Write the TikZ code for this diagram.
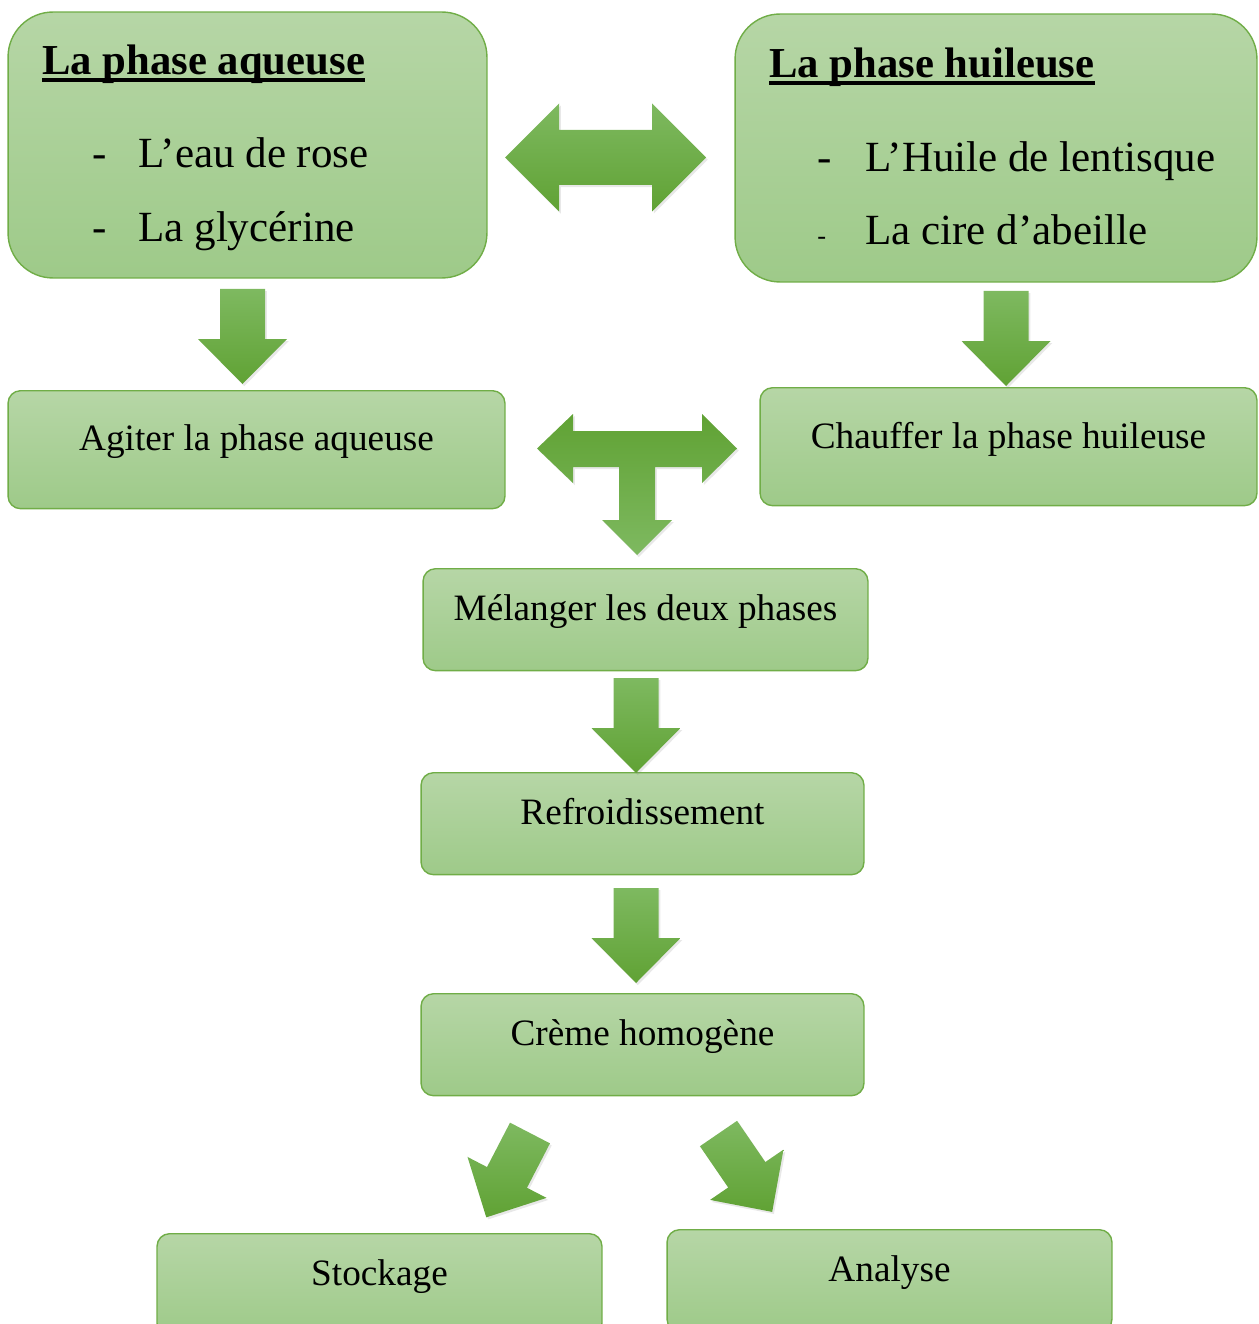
\documentclass[tikz,border=0pt]{standalone}
\usepackage{fontspec}
\setmainfont{Liberation Serif}
\usetikzlibrary{shadows}

\definecolor{boxtop}{RGB}{182,214,166}
\definecolor{boxbot}{RGB}{158,202,137}
\definecolor{boxline}{RGB}{112,173,71}
\definecolor{arrtop}{RGB}{126,185,96}
\definecolor{arrbot}{RGB}{96,162,52}

\begin{document}
\begin{tikzpicture}[
			x=0.02cm, y=-0.02cm,
			phasebox/.style={
				rectangle,
				draw=boxline,
				line width=0.8pt,
				rounded corners=0.9cm,
				top color=boxtop,
				bottom color=boxbot
			},
			box/.style={
				rectangle,
				draw=boxline,
				line width=0.8pt,
				rounded corners=0.25cm,
				top color=boxtop,
				bottom color=boxbot,
				minimum width=8.9cm,
				inner sep=0pt,
				text height=1.04cm,
				text depth=1.0cm,
				anchor=north,
				font=\fontsize{21.2}{25}\selectfont
			},
			item/.style={
				anchor=base west,
				inner sep=0pt,
				font=\fontsize{24.5}{28}\selectfont
			},
			title/.style={
				item,
				font=\fontsize{24.3}{28}\selectfont\bfseries
			},
			underline/.style={
				line width=2pt
			},
			blockarrow/.style={
				top color=arrtop,
				bottom color=arrbot,
				drop shadow={opacity=0.18, shadow xshift=1pt, shadow yshift=-1.2pt}
			}
			]
			
			\clip (0,0) rectangle (1258,1324);
			
			% the two phases
			\node (aq) [phasebox, minimum width=9.58cm, minimum height=5.32cm] at (247.5,145) {};
			\node (hu) [phasebox, minimum width=10.44cm, minimum height=5.36cm] at (996,148) {};
			
			\node (aqtitle) [title] at (42,75) {La phase aqueuse};
			\node (aqone) [item] at (92,168) {\makebox[0.92cm][l]{-}L’eau de rose};
			\node (aqtwo) [item] at (92,242) {\makebox[0.92cm][l]{-}La glycérine};
			
			\node (hutitle) [title] at (769,78) {La phase huileuse};
			\node (huone) [item] at (817,172) {\makebox[0.96cm][l]{-}L’Huile de lentisque};
			\node (hutwo) [item] at (817,245) {\makebox[0.96cm][l]{\fontsize{15}{18}\selectfont -}La cire d’abeille};
			
			\draw [underline] ([yshift=-2.8pt]aqtitle.base west) -- ([yshift=-2.8pt]aqtitle.base east);
			\draw [underline] ([yshift=-2.8pt]hutitle.base west) -- ([yshift=-2.8pt]hutitle.base east);
			
			% steps
			\node (agit) [box, minimum width=9.94cm, text height=1.2cm, text depth=1.16cm] at (256.5,390) {Agiter la phase aqueuse};
			\node (chauf) [box, minimum width=9.94cm, text height=1.22cm, text depth=1.14cm] at (1008.5,387) {Chauffer la phase huileuse};
			\node (mel) [box] at (645.5,568) {Mélanger les deux phases};
			\node (refr) [box, minimum width=8.86cm] at (642.5,772) {Refroidissement};
			\node (creme) [box, minimum width=8.86cm] at (642.5,993) {Crème homogène};
			\node (stock) [box] at (379.5,1233) {Stockage};
			\node (anal) [box] at (889.5,1229) {Analyse};
			
			% block arrows
			\path [blockarrow] (505,157.5) -- (559,103.5) -- (559,130) -- (652,130) -- (652,103.5)
				-- (706,157.5) -- (652,211.5) -- (652,185) -- (559,185) -- (559,211.5) -- cycle;
			
			\path [blockarrow, top color=arrbot, bottom color=arrtop] (537,448.5) -- (573,414) -- (573,431) -- (702,431) -- (702,414)
				-- (737,448.5) -- (702,483) -- (702,467) -- (655,467) -- (655,520) -- (672,520)
				-- (637,555) -- (602,520) -- (619,520) -- (619,467) -- (573,467) -- (573,483) -- cycle;
			
			\foreach \ax/\ay/\ang in {242.5/289/0, 1006/291/0, 636/678/0, 636/888/0, 530/1133/-27.4, 718.5/1133.5/34.4}
				\path [blockarrow, shift={(\ax,\ay)}, rotate=\ang] (-22.5,0) -- (22.5,0) -- (22.5,50)
					-- (44.5,50) -- (0,95) -- (-44.5,50) -- (-22.5,50) -- cycle;
			
		\end{tikzpicture}
\end{document}
